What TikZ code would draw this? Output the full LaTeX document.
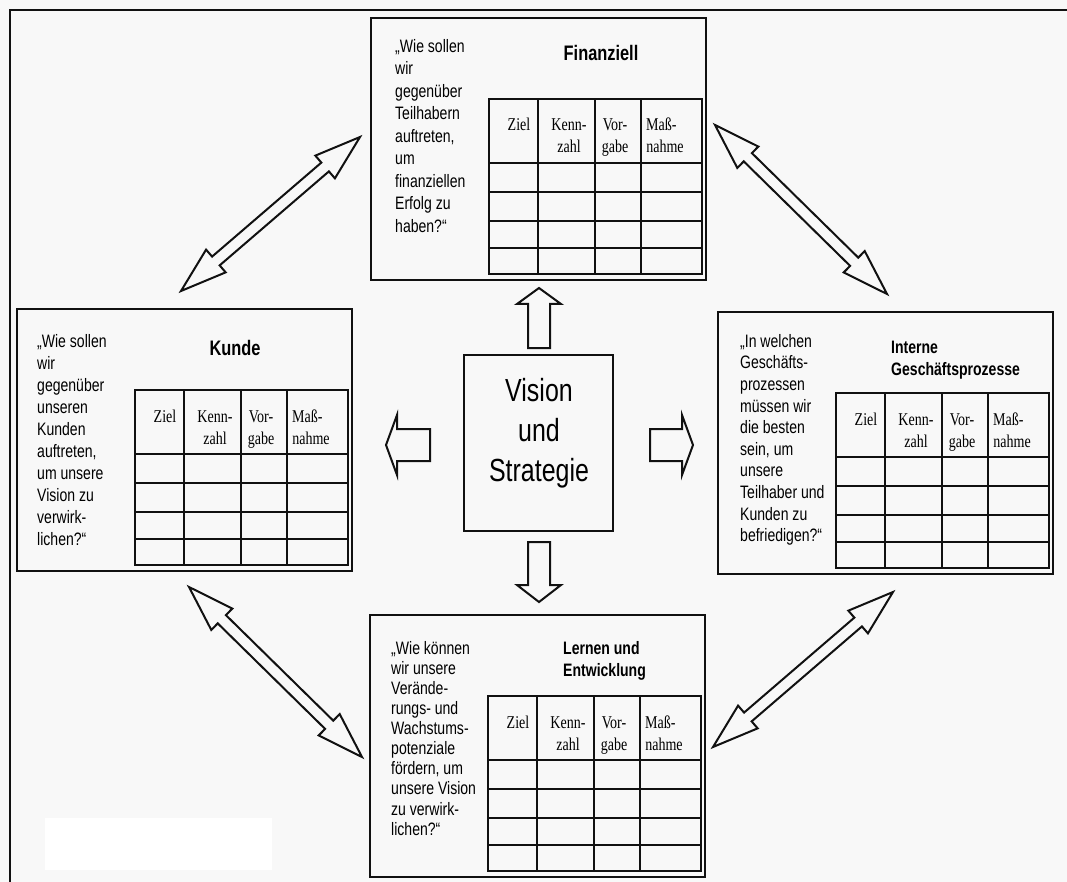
\documentclass[tikz,border=0pt]{standalone}
\usepackage{fontspec}
\setmainfont[FakeStretch=0.78]{Liberation Sans}
\newfontfamily\hdrfont[FakeStretch=0.78]{Liberation Serif}
\usetikzlibrary{calc}
\definecolor{bg}{RGB}{248,248,248}
\definecolor{ink}{RGB}{17,17,17}
\tikzset{
  panel/.style={draw=ink, line width=2.2pt, fill=bg, rectangle, inner sep=0pt,
    minimum width=335pt, minimum height=262pt},
  gridline/.style={draw=ink, line width=1.8pt},
  qtext/.style={inner sep=0pt, anchor=north west, align=left},
  ttl/.style={inner sep=0pt, anchor=base, font=\fontsize{18}{22}\selectfont\bfseries},
  bigttl/.style={inner sep=0pt, anchor=base, font=\fontsize{21}{25}\selectfont\bfseries},
  hdr/.style={inner sep=0pt, anchor=base, font=\hdrfont\fontsize{18}{22}\selectfont},
  barrow/.style={draw=ink, line width=2pt, fill=bg, line join=miter},
  centertext/.style={inner sep=0pt, anchor=base, font=\fontsize{32}{40}\selectfont},
}
\newcommand\bsctable[2]{%
  \begin{scope}[shift={(#2)}]
    \draw[gridline] (0,0) rectangle (213,175);
    \foreach \c in {49,106,152} \draw[gridline] (\c,0) -- (\c,175);
    \foreach \r in {64,93,122,149} \draw[gridline] (0,\r) -- (213,\r);
    \node[hdr] (#1h1) at (30,32) {Ziel};
    \node[hdr] (#1h2) at (80,32) {Kenn-};
    \node[hdr] (#1h3) at (80,54) {zahl};
    \node[hdr] (#1h4) at (126,32) {Vor-};
    \node[hdr] (#1h5) at (126,54) {gabe};
    \node[hdr, anchor=base west] (#1h6) at (157,32) {Maß-};
    \node[hdr] (#1h7) at (176,54) {nahme};
  \end{scope}}
\newcommand\dblarrow[2]{%
  \draw[barrow] (#1)
    -- ($(#1)!46pt!(#2)!15pt!90:(#2)$)
    -- ($(#1)!46pt!(#2)!5.8pt!90:(#2)$)
    -- ($(#2)!46pt!(#1)!5.8pt!-90:(#1)$)
    -- ($(#2)!46pt!(#1)!15pt!-90:(#1)$)
    -- (#2)
    -- ($(#2)!46pt!(#1)!15pt!90:(#1)$)
    -- ($(#2)!46pt!(#1)!5.8pt!90:(#1)$)
    -- ($(#1)!46pt!(#2)!5.8pt!-90:(#2)$)
    -- ($(#1)!46pt!(#2)!15pt!-90:(#2)$)
    -- cycle;}
\begin{document}
\begin{tikzpicture}[x=1pt,y=-1pt]
\useasboundingbox (0,0) rectangle (1067,882);
\fill[bg] (0,0) rectangle (1067,882);
\draw[ink, line width=2.5pt] (10,882) -- (10,10) -- (1067,10);
\fill[white] (45,818) rectangle (272,870);

% panels
\node[panel] (fin) at (538.5,149) {};
\node[panel] (kun) at (184.5,440) {};
\node[panel] (int) at (885.5,443) {};
\node[panel] (lern) at (537.5,746) {};
\node[draw=ink, line width=2pt, fill=bg, inner sep=0pt, minimum width=149pt, minimum height=176pt] (vis) at (538.5,443) {};

% tables
\coordinate (tF) at (489,99);
\coordinate (tK) at (135,390);
\coordinate (tI) at (836,393);
\coordinate (tL) at (488,696);
\bsctable{f}{tF}
\bsctable{k}{tK}
\bsctable{i}{tI}
\bsctable{l}{tL}

% titles
\node[bigttl] (finT) at (601,61) {Finanziell};
\node[bigttl] (kunT) at (235,355) {Kunde};
\node[ttl, anchor=base west] (intT1) at (891,353) {Interne};
\node[ttl, anchor=base west] (intT2) at (891,375) {Geschäftsprozesse};
\node[ttl, anchor=base west] (lernT1) at (563,654) {Lernen und};
\node[ttl, anchor=base west] (lernT2) at (563,676) {Entwicklung};

% questions
\node[qtext, font=\fontsize{18}{22.5}\selectfont] (finQ) at (395,39)
  {„Wie sollen\\wir\\gegenüber\\Teilhabern\\auftreten,\\um\\finanziellen\\Erfolg zu\\haben?“};
\node[qtext, font=\fontsize{18}{22}\selectfont] (kunQ) at (37,334)
  {„Wie sollen\\wir\\gegenüber\\unseren\\Kunden\\auftreten,\\um unsere\\Vision zu\\verwirk-\\lichen?“};
\node[qtext, font=\fontsize{18}{21.6}\selectfont] (intQ) at (740,334)
  {„In welchen\\Geschäfts-\\prozessen\\müssen wir\\die besten\\sein, um\\unsere\\Teilhaber und\\Kunden zu\\befriedigen?“};
\node[qtext, font=\fontsize{18}{20.1}\selectfont] (lernQ) at (391,641)
  {„Wie können\\wir unsere\\Verände-\\rungs- und\\Wachstums-\\potenziale\\fördern, um\\unsere Vision\\zu verwirk-\\lichen?“};

% center text
\node[centertext] (v1) at (539,401) {Vision};
\node[centertext] (v2) at (539,441) {und};
\node[centertext] (v3) at (539,481) {Strategie};

% block arrows from the centre
\draw[barrow] (539,288) -- (561,304) -- (550,304) -- (550,348) -- (528,348) -- (528,304) -- (517,304) -- cycle;
\draw[barrow] (539,602) -- (517,585) -- (528,585) -- (528,542) -- (550,542) -- (550,585) -- (561,585) -- cycle;
\draw[barrow] (386,445) -- (397,415) -- (397,429) -- (430,429) -- (430,461) -- (397,461) -- (397,475) -- cycle;
\draw[barrow] (693,445) -- (682,415) -- (682,429) -- (650,429) -- (650,461) -- (682,461) -- (682,475) -- cycle;

% double arrows between panels
\coordinate (a1) at (360,137); \coordinate (b1) at (181,291);
\coordinate (a2) at (715,125); \coordinate (b2) at (887,294);
\coordinate (a3) at (189,587); \coordinate (b3) at (362,757);
\coordinate (a4) at (893,592); \coordinate (b4) at (713,747);
\dblarrow{a1}{b1}
\dblarrow{a2}{b2}
\dblarrow{a3}{b3}
\dblarrow{a4}{b4}
\end{tikzpicture}
\end{document}
